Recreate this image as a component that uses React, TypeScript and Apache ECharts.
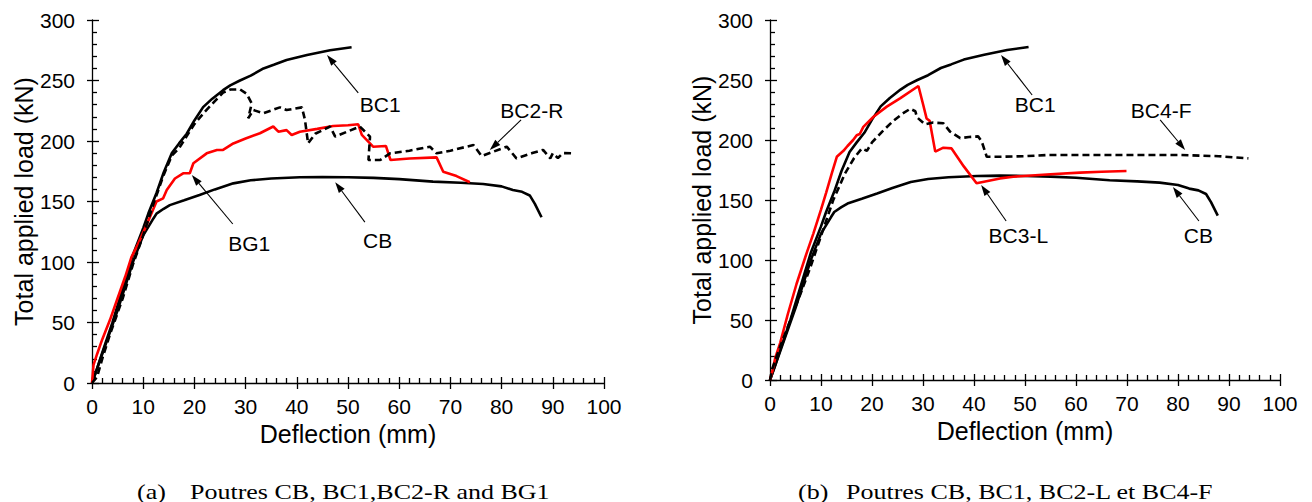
import React, { useEffect, useRef } from "react";
import * as echarts from "echarts";

const FONT = "Arial, 'Liberation Sans', Helvetica, sans-serif";
const SERIF = "'Times New Roman', 'Liberation Serif', serif";

// ---------- data (deflection mm, load kN) ----------
const bc1X = [0, 1, 2, 4, 6, 8, 10, 11, 12.6, 14, 15.6, 17, 18.5, 20, 21.7, 23.5, 25.6, 27, 28.9, 31, 33.5, 35.5, 38, 42, 46.5, 50.7];
const bc1Y = [0, 12, 25, 50, 78, 106, 128, 140, 157, 174, 190, 198, 206, 217, 228, 235, 242, 246, 250, 254, 260, 263, 267, 271, 275, 277.5];

const cbX = [0, 2, 5, 8, 10, 12, 12.6, 14, 15.2, 18, 21, 24, 27.6, 31, 35, 40.6, 45, 50, 55, 60, 66.6, 72, 76.4, 80, 82.2, 84, 85.5, 86.5, 87.8];
const cbY = [0, 24, 60, 100, 122, 136, 140, 144, 147, 151, 155.4, 160, 165, 167.5, 169, 170, 170.3, 170, 169.5, 168.5, 166.4, 165.5, 164.5, 162.5, 159.5, 158, 155, 148, 137];

const bc2rX = [0, 1, 2, 3.5, 6, 8, 10, 12, 14, 15.6, 17, 18.5, 20, 22, 24, 25.6, 27, 28.9, 30.2, 31.2, 30.5, 31.5, 33.5, 36.7, 38, 41, 41.6, 42.2, 43.6, 46.5, 47.5, 52.3, 54.3, 54, 56.3, 58.2, 62, 66, 67.3, 70, 74.5, 76.1, 81, 82.9, 86, 88.1, 89.5, 90, 91, 92, 93.7];
const bc2rY = [0, 5, 20, 40, 70, 98, 122, 148, 172, 188, 194, 204, 214, 224, 233, 240, 242.5, 242.7, 239, 231, 218.7, 225.6, 223, 227.8, 225.6, 227.8, 217.4, 198, 206, 212, 203.6, 212, 203.6, 184.3, 184.3, 189.8, 192, 195.3, 189.8, 192, 196.7, 187.6, 195.3, 185.7, 190, 192.6, 185.7, 189.8, 186, 190, 189.8];

const bg1X = [0, 0.3, 1, 2, 3.5, 5, 6.5, 7.7, 9, 10.7, 12.6, 13.9, 14.6, 16.2, 17.8, 19.1, 19.8, 22.4, 24.4, 25.6, 27.6, 30, 32.8, 35.4, 36.4, 38, 39, 40.6, 44, 47.1, 50, 52, 52.7, 54.9, 57.4, 58.3, 62, 67.3, 68.6, 71.2, 73.8];
const bg1Y = [0, 15, 24, 36, 52, 70, 88, 104, 115, 131, 150, 152.6, 159.5, 169, 173.3, 173.3, 181.6, 189.8, 192.6, 192.6, 198, 202, 206.4, 212, 207.7, 209, 205, 207.7, 210, 212.4, 213, 213.8, 205, 195.3, 195.9, 184.3, 185.5, 186.5, 174.6, 171, 165.9];

const bc4fX = [0, 0.5, 2, 4, 6, 8, 10, 12.4, 14.7, 16.5, 18, 19, 20, 22, 24.2, 26, 27.5, 28.5, 28.8, 30.4, 32, 34, 35.3, 37.3, 39, 40.8, 41.5, 42.5, 45, 50, 54.3, 60, 70, 80.4, 88, 93.8];
const bc4fY = [0, 10, 28, 50, 72, 95, 120, 150, 172, 185, 193, 191, 198, 207, 216, 222, 226, 224, 219, 213, 214.5, 214, 207, 201.5, 202.5, 203, 199, 186, 186, 186.5, 187.5, 187.5, 187.5, 187.5, 186.5, 184.7];

const bc3lX = [0, 0.5, 1, 2, 3.5, 5.2, 7.2, 8.5, 10, 11, 12.1, 13.1, 14.4, 15.2, 16.3, 17, 17.6, 18.3, 20.3, 22.9, 25.5, 29.1, 30, 30.7, 31.3, 32.4, 34, 35.6, 38, 40.5, 45.1, 47.7, 55, 60.8, 65, 69.9];
const bc3lY = [0, 8, 18, 31, 55, 80, 106, 122, 142, 156, 172, 186, 191, 195, 200, 204, 205, 211, 219.4, 227.8, 234.7, 245, 230, 218, 216, 190.3, 193.6, 193, 178, 164, 168, 169.4, 171.5, 172.8, 173.5, 174.2];

const xTicks = { min: 0, max: 100, interval: 10 };
const yTicks = { min: 0, max: 300, interval: 50 };

// annotations: label, text centre, arrow tail, arrow tip (data coords)
const annotA = [
  { label: "BC1", text: [56.3, 229.8], tail: [52, 239.7], tip: [45.9, 271] },
  { label: "BC2-R", text: [85.9, 224.8], tail: [83.8, 217.4], tip: [77.7, 192.6] },
  { label: "CB", text: [55.8, 117.4], tail: [53.3, 133], tip: [47.5, 166] },
  { label: "BG1", text: [30.7, 114.9], tail: [27.5, 131.4], tip: [19.5, 171.9] },
];
const annotB = [
  { label: "BC1", text: [52, 230], tail: [51.4, 237.5], tip: [45.3, 270.8] },
  { label: "BC4-F", text: [76.7, 225], tail: [76.5, 216.7], tip: [81.4, 191.7] },
  { label: "BC3-L", text: [48.7, 120.8], tail: [46.3, 132.5], tip: [41.4, 162.5] },
  { label: "CB", text: [84, 120.8], tail: [84.1, 132.5], tip: [79, 160.8] },
];

const captionA = ["(a)", "Poutres CB, BC1,BC2-R and BG1"];
const captionB = ["(b)", "Poutres CB, BC1, BC2-L et BC4-F"];

const zip = (xs: number[], ys: number[]) => xs.map((x, i) => [x, ys[i]]);

const AX = "#000";
const tickLine = { color: AX, width: 1.3 };

function mainX(gridIndex: number) {
  return {
    type: "value", gridIndex, ...xTicks, position: "bottom",
    name: "Deflection (mm)", nameLocation: "middle", nameGap: 36,
    nameTextStyle: { fontSize: 25, color: AX, fontFamily: FONT },
    axisLine: { show: true, onZero: false, lineStyle: tickLine },
    axisTick: { show: true, inside: false, length: 6, lineStyle: tickLine },
    axisLabel: { fontSize: 21, color: AX, fontFamily: FONT, margin: 13 },
    splitLine: { show: false },
  };
}
function overlayX(gridIndex: number) {
  return {
    type: "value", gridIndex, ...xTicks, position: "bottom",
    axisLine: { show: false, onZero: false },
    axisLabel: { show: false },
    axisTick: { show: true, inside: true, length: 6, lineStyle: tickLine },
    minorTick: { show: true, splitNumber: 5, length: 5, lineStyle: tickLine },
    splitLine: { show: false },
  };
}
function mainY(gridIndex: number) {
  return {
    type: "value", gridIndex, ...yTicks, position: "left",
    name: "Total applied load (kN)", nameLocation: "middle", nameGap: 54,
    nameTextStyle: { fontSize: 25, color: AX, fontFamily: FONT },
    axisLine: { show: true, onZero: false, lineStyle: tickLine },
    axisTick: { show: true, inside: false, length: 5, lineStyle: tickLine },
    axisLabel: { fontSize: 21, color: AX, fontFamily: FONT, margin: 17 },
    splitLine: { show: false },
  };
}
function overlayY(gridIndex: number) {
  return {
    type: "value", gridIndex, ...yTicks, position: "left",
    axisLine: { show: false, onZero: false },
    axisLabel: { show: false },
    axisTick: { show: true, inside: true, length: 7, lineStyle: tickLine },
    minorTick: { show: true, splitNumber: 5, length: 5, lineStyle: tickLine },
    splitLine: { show: false },
  };
}

function line(name: string, data: number[][], axis: number, color: string, dashed = false) {
  return {
    name, type: "line", data, xAxisIndex: axis, yAxisIndex: axis,
    showSymbol: false, symbol: "none", smooth: false, silent: true,
    lineStyle: { color, width: 2.6, type: dashed ? [7, 4] : "solid" },
    z: dashed ? 3 : 2,
  };
}

export default function App() {
  const ref = useRef<HTMLDivElement>(null);
  useEffect(() => {
    document.body.style.margin = "0";
    const chart = echarts.init(ref.current!, null, { renderer: "svg" });
    chart.setOption({
      animation: false,
      backgroundColor: "#fff",
      grid: [
        { left: 92, top: 20, width: 512, height: 363 },
        { left: 770, top: 20, width: 510, height: 360 },
      ],
      xAxis: [mainX(0), overlayX(0), mainX(1), overlayX(1)],
      yAxis: [mainY(0), overlayY(0), mainY(1), overlayY(1)],
      series: [
        line("CB", zip(cbX, cbY), 0, "#000"),
        line("BC1", zip(bc1X, bc1Y), 0, "#000"),
        line("BC2-R", zip(bc2rX, bc2rY), 0, "#000", true),
        line("BG1", zip(bg1X, bg1Y), 0, "#ff0000"),
        line("CB", zip(cbX, cbY), 2, "#000"),
        line("BC1", zip(bc1X, bc1Y), 2, "#000"),
        line("BC4-F", zip(bc4fX, bc4fY), 2, "#000", true),
        line("BC3-L", zip(bc3lX, bc3lY), 2, "#ff0000"),
      ],
    });

    const graphics: any[] = [];
    const addAnnots = (list: typeof annotA, axis: number) => {
      const conv = (p: number[]) =>
        chart.convertToPixel({ xAxisIndex: axis, yAxisIndex: axis }, p) as number[];
      list.forEach((a) => {
        const t = conv(a.text);
        const s = conv(a.tail);
        const e = conv(a.tip);
        const dx = e[0] - s[0];
        const dy = e[1] - s[1];
        const len = Math.hypot(dx, dy);
        const ux = dx / len;
        const uy = dy / len;
        const hl = 11;
        const hw = 3.6;
        const bx = e[0] - ux * hl;
        const by = e[1] - uy * hl;
        graphics.push({
          type: "line", silent: true, z: 10,
          shape: { x1: s[0], y1: s[1], x2: bx, y2: by },
          style: { stroke: "#000", lineWidth: 1.1 },
        });
        graphics.push({
          type: "polygon", silent: true, z: 10,
          shape: { points: [[e[0], e[1]], [bx - uy * hw, by + ux * hw], [bx + uy * hw, by - ux * hw]] },
          style: { fill: "#000" },
        });
        graphics.push({
          type: "text", silent: true, z: 10,
          style: {
            text: a.label, x: t[0], y: t[1], fill: "#000", font: `21px ${FONT}`,
            align: "center", verticalAlign: "middle", textAlign: "center", textVerticalAlign: "middle",
          },
        });
      });
    };
    addAnnots(annotA, 0);
    addAnnots(annotB, 2);

    const cap = (text: string, x: number) => ({
      type: "text", silent: true,
      x, y: 492, scaleX: 1.3, scaleY: 1,
      style: {
        text, x: 0, y: 0, fill: "#000", font: `20px ${SERIF}`,
        align: "left", verticalAlign: "middle", textAlign: "left", textVerticalAlign: "middle",
      },
    });
    graphics.push(cap(captionA[0], 137), cap(captionA[1], 190));
    graphics.push(cap(captionB[0], 798), cap(captionB[1], 846));

    chart.setOption({ graphic: graphics });
    return () => chart.dispose();
  }, []);
  return <div ref={ref} style={{ width: 1312, height: 502 }} />;
}
